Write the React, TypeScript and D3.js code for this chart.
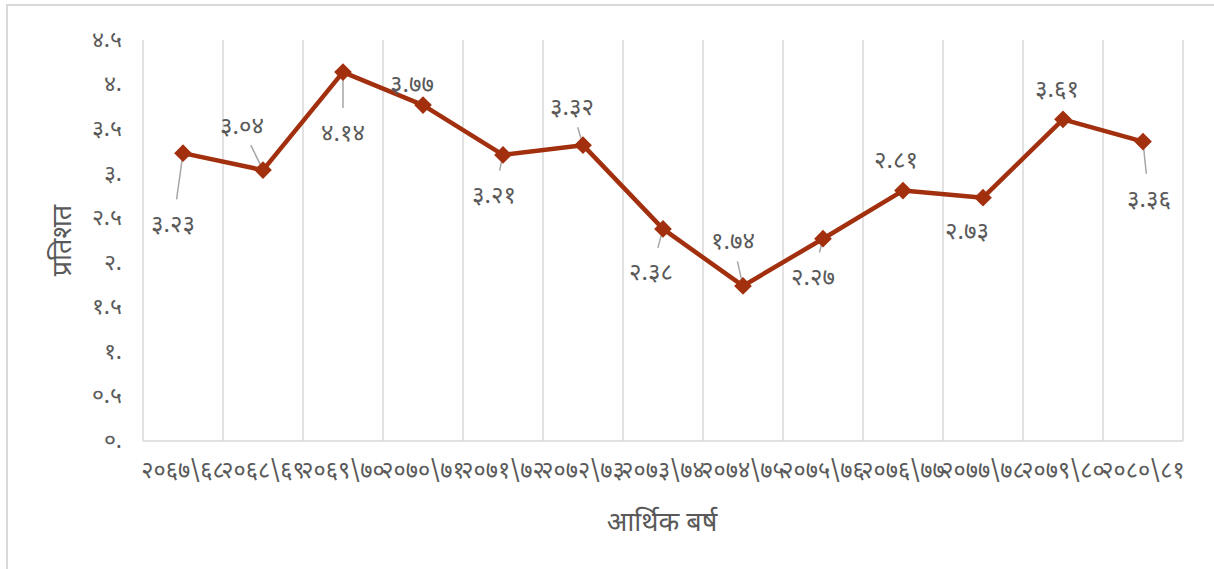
import React, { useEffect, useRef } from "react";
import * as d3 from "d3";

// आर्थिक वर्ष अनुसारको प्रतिशत
const years = [
  "२०६७\\६८", "२०६८\\६९", "२०६९\\७०", "२०७०\\७१", "२०७१\\७२", "२०७२\\७३", "२०७३\\७४",
  "२०७४\\७५", "२०७५\\७६", "२०७६\\७७", "२०७७\\७८", "२०७९\\८०", "२०८०\\८१",
];
const values = [3.23, 3.04, 4.14, 3.77, 3.21, 3.32, 2.38, 1.74, 2.27, 2.81, 2.73, 3.61, 3.36];
const yTicks = [0, 0.5, 1, 1.5, 2, 2.5, 3, 3.5, 4, 4.5];

// data label placement, relative to the point (px): [dx, dy, leader?]
const labelPos: [number, number, boolean][] = [
  [-10, 72, true], [-21, -43, true], [0, 62, true], [-11, -20, false], [-9, 41, true],
  [-11, -37, true], [-12, 44, true], [-10, -44, true], [-10, 39, true], [-7, -30, false],
  [-16, 34, false], [-6, -30, false], [6, 58, true],
];

const devDigits = "०१२३४५६७८९";
const toDev = (s: string) => s.replace(/[0-9]/g, (c) => devDigits[+c]);
const fmtTick = (v: number) => toDev(Number.isInteger(v) ? v + "." : String(v));

const FONT = "'Noto Sans Devanagari', 'Noto Sans', 'DejaVu Sans', sans-serif";

export default function App() {
  const ref = useRef<SVGSVGElement>(null);

  useEffect(() => {
    const svg = d3.select(ref.current);
    svg.selectAll("*").remove();
    const W = 1214, H = 569;
    const m = { left: 143, right: 31, top: 40, bottom: 128 };
    const w = W - m.left - m.right;
    const h = H - m.top - m.bottom;

    // chart border
    svg.append("rect").attr("x", 7).attr("y", 5).attr("width", W).attr("height", H)
      .attr("fill", "#fff").attr("stroke", "#d9d9d9").attr("stroke-width", 2);

    const x = d3.scaleBand().domain(years).range([0, w]);
    const y = d3.scaleLinear().domain([0, 4.5]).range([h, 0]);
    const g = svg.append("g").attr("transform", `translate(${m.left},${m.top})`);

    // vertical grid at category boundaries
    const bounds = years.map((d) => x(d)!).concat([w]);
    g.selectAll("line.grid").data(bounds).enter().append("line")
      .attr("x1", (d) => d).attr("x2", (d) => d).attr("y1", 0).attr("y2", h)
      .attr("stroke", "#d9d9d9").attr("stroke-width", 1.5);
    g.append("line").attr("x1", 0).attr("x2", w).attr("y1", h).attr("y2", h)
      .attr("stroke", "#d9d9d9").attr("stroke-width", 1.5);

    // y tick labels
    g.selectAll("text.yt").data(yTicks).enter().append("text")
      .attr("x", -21).attr("y", (d) => y(d)).attr("dy", "0.3em")
      .attr("text-anchor", "end").attr("fill", "#595959")
      .style("font-family", FONT).style("font-size", "23px")
      .text((d) => fmtTick(d));

    // x tick labels
    g.selectAll("text.xt").data(years).enter().append("text")
      .attr("x", (d) => x(d)! + x.bandwidth() / 2).attr("y", h + 37)
      .attr("text-anchor", "middle").attr("fill", "#595959")
      .style("font-family", FONT).style("font-size", "23.5px")
      .text((d) => d);

    // axis titles
    svg.append("text").attr("text-anchor", "middle")
      .attr("transform", `translate(71,${m.top + h / 2})rotate(-90)`)
      .attr("fill", "#595959").style("font-family", FONT).style("font-size", "27px")
      .text("प्रतिशत");
    svg.append("text").attr("x", 662).attr("y", 531).attr("text-anchor", "middle")
      .attr("fill", "#595959").style("font-family", FONT).style("font-size", "27px")
      .text("आर्थिक बर्ष");

    const cx = (i: number) => x(years[i])! + x.bandwidth() / 2;

    // leader lines
    values.forEach((v, i) => {
      const [dx, dy, leader] = labelPos[i];
      if (!leader) return;
      const px = cx(i), py = y(v);
      const lx = px + dx, ly = py + dy;
      const ang = Math.atan2(ly - py, lx - px);
      const endOff = dy > 0 ? 26 : 20;
      const len = Math.hypot(lx - px, ly - py) - endOff;
      g.append("line").attr("x1", px).attr("y1", py)
        .attr("x2", px + Math.cos(ang) * len).attr("y2", py + Math.sin(ang) * len)
        .attr("stroke", "#a6a6a6").attr("stroke-width", 1.5);
    });

    const line = d3.line<number>().x((_, i) => cx(i)).y((d) => y(d));
    g.append("path").datum(values).attr("d", line)
      .attr("fill", "none").attr("stroke", "#a2300f").attr("stroke-width", 4.5)
      .attr("stroke-linejoin", "round");

    const diamond = d3.symbol().type(d3.symbolDiamond2).size(200);
    g.selectAll("path.pt").data(values).enter().append("path")
      .attr("d", diamond)
      .attr("transform", (d, i) => `translate(${cx(i)},${y(d)})`)
      .attr("fill", "#a2300f");

    // data labels
    g.selectAll("text.dl").data(values).enter().append("text")
      .attr("x", (d, i) => cx(i) + labelPos[i][0])
      .attr("y", (d, i) => y(d) + labelPos[i][1]).attr("dy", "0.3em")
      .attr("text-anchor", "middle").attr("fill", "#595959")
      .style("font-family", FONT).style("font-size", "24px")
      .text((d) => toDev(d.toFixed(2)));
  }, []);

  return (
    <div>
      <style>{`body{margin:0}`}</style>
      <svg ref={ref} width={1214} height={569} style={{ display: "block" }} />
    </div>
  );
}
